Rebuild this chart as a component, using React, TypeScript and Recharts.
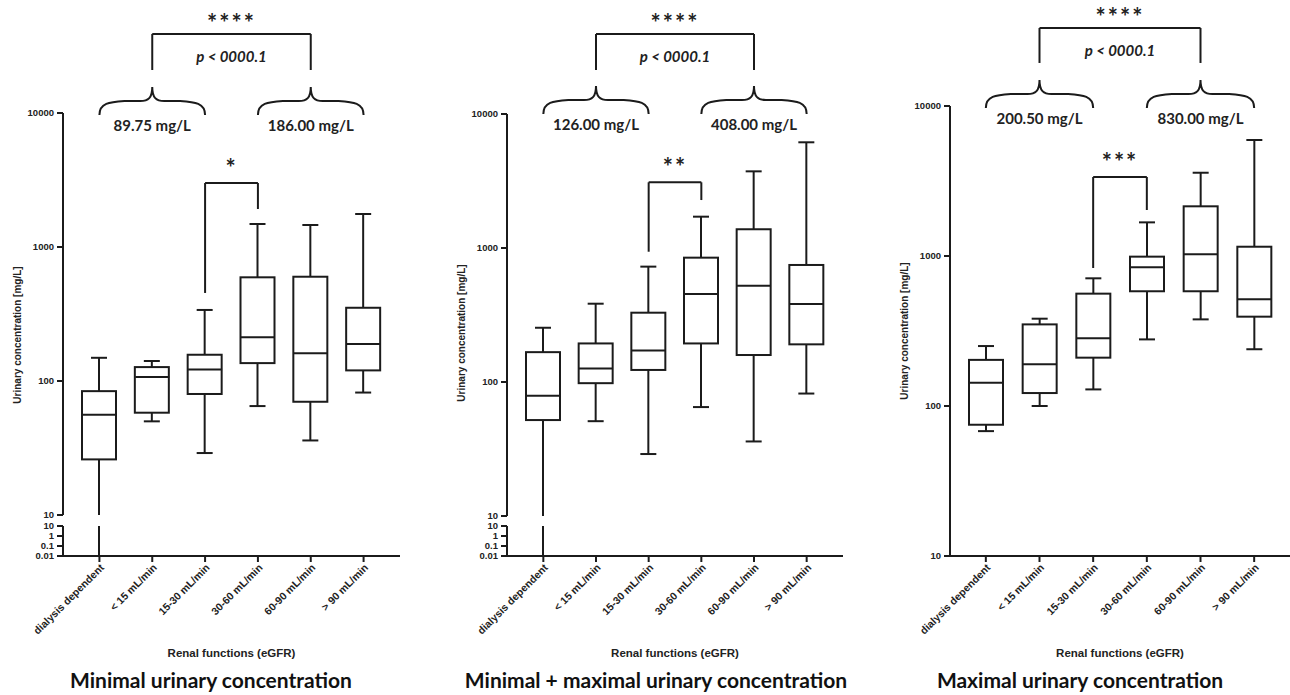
import React from 'react';
import { ComposedChart, Bar, Line, XAxis, YAxis, ReferenceLine } from 'recharts';

const groups = ['dialysis dependent', '< 15 mL/min', '15-30 mL/min', '30-60 mL/min', '60-90 mL/min', '> 90 mL/min'];

// Minimal urinary concentration
const minLow = [0.01, 50, 29, 65, 36, 82];
const minQ1 = [26, 58, 80, 136, 70, 120];
const minMedian = [56, 107, 122, 212, 161, 189];
const minQ3 = [84, 127, 157, 594, 600, 352];
const minHigh = [149, 141, 339, 1485, 1460, 1763];

// Minimal + maximal urinary concentration
const bothLow = [0.01, 51, 29, 65, 36, 82];
const bothQ1 = [52, 98, 123, 194, 159, 191];
const bothMedian = [79, 126, 172, 454, 523, 382];
const bothQ3 = [167, 194, 329, 847, 1380, 747];
const bothHigh = [254, 384, 726, 1713, 3733, 6150];

// Maximal urinary concentration
const maxLow = [68, 100, 129, 278, 378, 239];
const maxQ1 = [75, 122, 210, 582, 582, 394];
const maxMedian = [143, 190, 283, 840, 1026, 514];
const maxQ3 = [203, 350, 561, 990, 2144, 1153];
const maxHigh = [251, 382, 710, 1676, 3590, 5935];

const mainTicks = [10, 100, 1000, 10000];
const breakTicks = [0.01, 0.1, 1, 10];

const INK = '#1b1b1b';
const TEXT = '#222';
const ARIAL = '"Liberation Sans", Arial, sans-serif';
const CALIBRI = 'Lato, "Open Sans", sans-serif';

const yTickStyle = { fontSize: 9.5, fontWeight: 700, fill: TEXT, fontFamily: ARIAL };
const xTickStyle = { fontSize: 10.5, fontWeight: 700, fill: TEXT, fontFamily: ARIAL };
const starFont = { fontSize: 24, fontWeight: 700, fill: TEXT, fontFamily: CALIBRI, letterSpacing: 2 };
const noteFont = { fontSize: 15, fontWeight: 700, fill: TEXT, fontFamily: CALIBRI };
const pFont = { fontSize: 15, fontWeight: 700, fontStyle: 'italic', fill: TEXT, fontFamily: CALIBRI };

type Row = { group: string; whisker: [number, number]; box: [number, number]; median: number };

const buildRows = (low: number[], q1: number[], med: number[], q3: number[], high: number[]): Row[] =>
  groups.map((g, i) => ({ group: g, whisker: [low[i], high[i]], box: [q1[i], q3[i]], median: med[i] }));

function Whisker(props: any) {
  const { x, y, width, height } = props;
  if (x == null || y == null) return null;
  const cx = x + width / 2;
  const top = Math.min(y, y + height);
  const bottom = Math.max(y, y + height);
  return (
    <g stroke={INK} strokeWidth={2} fill="none">
      <line x1={cx} x2={cx} y1={top} y2={bottom} />
      <line x1={cx - 8} x2={cx + 8} y1={top} y2={top} />
      <line x1={cx - 8} x2={cx + 8} y1={bottom} y2={bottom} />
    </g>
  );
}

function BoxShape(props: any) {
  const { x, y, width, height } = props;
  if (x == null || y == null) return null;
  const top = Math.min(y, y + height);
  return <rect x={x} y={top} width={width} height={Math.abs(height)} fill="#fff" stroke={INK} strokeWidth={2} />;
}

function MedianTick(props: any) {
  const { cx, cy, index } = props;
  if (cx == null || cy == null) return <g key={`m${index}`} />;
  return <line key={`m${index}`} x1={cx - 17} x2={cx + 17} y1={cy} y2={cy} stroke={INK} strokeWidth={2} />;
}

function Brace(props: any) {
  const { x1, x2, y1 } = props;
  const y = y1;
  const xm = (x1 + x2) / 2;
  const d = `M${x1},${y} C${x1},${y - 12} ${x1 + 10},${y - 13} ${x1 + 25},${y - 14} L${xm - 12},${y - 14} C${xm - 4},${y - 14} ${xm},${y - 17} ${xm},${y - 28} C${xm},${y - 17} ${xm + 4},${y - 14} ${xm + 12},${y - 14} L${x2 - 25},${y - 14} C${x2 - 10},${y - 13} ${x2},${y - 12} ${x2},${y}`;
  return <path d={d} fill="none" stroke={INK} strokeWidth={2} />;
}

function YTitle({ px, py }: { px: number; py: number }) {
  return (
    <text x={px} y={py} transform={`rotate(-90 ${px} ${py})`} textAnchor="middle" dominantBaseline="central"
      fontSize={10} fontWeight={700} fill={TEXT} fontFamily={ARIAL}>
      Urinary concentration [mg/L]
    </text>
  );
}

type Notes = {
  bigTop: number; bigFoot: number; braceLevel: number; leftText: string; rightText: string;
  pairTop: number; pairLeft: number; pairRight: number; pairStars: string; topOffset: number;
};

type PanelProps = {
  left: number; width: number; right: number; pad: number; plotTop: number; plotBottom: number;
  broken: boolean; rows: Row[]; notes: Notes; title: string; titleCenter: number; labelY: number;
};

const axisStroke = { stroke: INK, strokeWidth: 2 };

function xAxisProps(pad: number) {
  return {
    dataKey: 'group',
    padding: { left: pad, right: pad },
    interval: 0 as const,
    angle: -45,
    textAnchor: 'end',
    height: 105,
    tick: xTickStyle,
    tickSize: 6,
    tickMargin: 1,
    axisLine: axisStroke,
    tickLine: axisStroke,
    label: { value: 'Renal functions (eGFR)', position: 'insideBottom' as const, offset: 4, fontSize: 11.5, fontWeight: 700, fill: TEXT, fontFamily: ARIAL },
  };
}

function Panel({ left, width, right, pad, plotTop, plotBottom, broken, rows, notes, title, titleCenter, labelY }: PanelProps) {
  const ref = { stroke: INK, strokeWidth: 2, ifOverflow: 'visible' as const };
  const mainHeight = broken ? plotBottom + 5 : plotBottom + 105;
  return (
    <>
      <div style={{ position: 'absolute', left, top: 0 }}>
        <ComposedChart width={width} height={mainHeight} data={rows} barGap={-34}
          margin={{ top: plotTop, right, bottom: broken ? 5 : 0, left: 0 }}>
          {broken ? (
            <XAxis dataKey="group" hide height={0} padding={{ left: pad, right: pad }} />
          ) : (
            <XAxis {...(xAxisProps(pad) as any)} />
          )}
          <YAxis scale="log" domain={[10, 10000]} allowDataOverflow ticks={mainTicks} interval={0} width={63}
            tick={yTickStyle} tickSize={6} tickMargin={3} axisLine={axisStroke} tickLine={axisStroke}
            label={<YTitle px={17} py={labelY} />} />
          <Bar dataKey="whisker" barSize={34} shape={Whisker} isAnimationActive={false} />
          <Bar dataKey="box" barSize={34} shape={BoxShape} isAnimationActive={false} />
          <Line dataKey="median" stroke="none" dot={MedianTick} activeDot={false} isAnimationActive={false} />

          <ReferenceLine {...ref} segment={[{ x: groups[1], y: notes.bigFoot }, { x: groups[1], y: notes.bigTop }]} />
          <ReferenceLine {...ref} segment={[{ x: groups[1], y: notes.bigTop }, { x: groups[4], y: notes.bigTop }]}
            label={{ value: '****', position: 'top', offset: notes.topOffset, ...starFont }} />
          <ReferenceLine {...ref} segment={[{ x: groups[4], y: notes.bigTop }, { x: groups[4], y: notes.bigFoot }]} />
          <ReferenceLine ifOverflow="visible" stroke="none" segment={[{ x: groups[1], y: notes.bigTop }, { x: groups[4], y: notes.bigTop }]}
            label={{ value: 'p < 0000.1', position: 'bottom', offset: 17, ...pFont }} />

          <ReferenceLine ifOverflow="visible" shape={Brace} segment={[{ x: groups[0], y: notes.braceLevel }, { x: groups[2], y: notes.braceLevel }]}
            label={{ value: notes.leftText, position: 'bottom', offset: 5, ...noteFont }} />
          <ReferenceLine ifOverflow="visible" shape={Brace} segment={[{ x: groups[3], y: notes.braceLevel }, { x: groups[5], y: notes.braceLevel }]}
            label={{ value: notes.rightText, position: 'bottom', offset: 5, ...noteFont }} />

          <ReferenceLine {...ref} segment={[{ x: groups[2], y: notes.pairLeft }, { x: groups[2], y: notes.pairTop }]} />
          <ReferenceLine {...ref} segment={[{ x: groups[2], y: notes.pairTop }, { x: groups[3], y: notes.pairTop }]}
            label={{ value: notes.pairStars, position: 'top', offset: 6, ...starFont }} />
          <ReferenceLine {...ref} segment={[{ x: groups[3], y: notes.pairTop }, { x: groups[3], y: notes.pairRight }]} />
        </ComposedChart>
      </div>
      {broken && (
        <div style={{ position: 'absolute', left, top: 520 }}>
          <ComposedChart width={width} height={141} data={rows} barGap={-34} margin={{ top: 6, right, bottom: 0, left: 0 }}>
            <XAxis {...(xAxisProps(pad) as any)} />
            <YAxis scale="log" domain={[0.01, 10]} allowDataOverflow ticks={breakTicks} interval={0} width={63}
              tick={yTickStyle} tickSize={6} tickMargin={3} axisLine={axisStroke} tickLine={axisStroke} />
            <Bar dataKey="whisker" barSize={34} shape={Whisker} isAnimationActive={false} />
          </ComposedChart>
        </div>
      )}
      <div style={{
        position: 'absolute', left: titleCenter - 250, width: 500, top: 667, textAlign: 'center',
        fontFamily: CALIBRI, fontWeight: 700, fontSize: 21, lineHeight: '26px', color: '#111',
      }}>
        {title}
      </div>
    </>
  );
}

export default function App() {
  return (
    <div style={{ position: 'absolute', left: 0, top: 0, width: 1290, height: 695, background: '#fff', overflow: 'hidden' }}>
      <Panel left={0} width={420} right={20} pad={10} plotTop={113} plotBottom={515} broken labelY={335}
        rows={buildRows(minLow, minQ1, minMedian, minQ3, minHigh)}
        notes={{ bigTop: 38900, bigFoot: 20940, braceLevel: 9660, leftText: '89.75 mg/L', rightText: '186.00 mg/L', pairTop: 3005, pairLeft: 454, pairRight: 1922, pairStars: '*', topOffset: 2 }}
        title="Minimal urinary concentration" titleCenter={211} />
      <Panel left={444} width={419} right={20} pad={10} plotTop={114} plotBottom={516} broken labelY={333}
        rows={buildRows(bothLow, bothQ1, bothMedian, bothQ3, bothHigh)}
        notes={{ bigTop: 39540, bigFoot: 21300, braceLevel: 10000, leftText: '126.00 mg/L', rightText: '408.00 mg/L', pairTop: 3093, pairLeft: 938, pairRight: 2280, pairStars: '**', topOffset: 2 }}
        title="Minimal + maximal urinary concentration" titleCenter={656} />
      <Panel left={887} width={403} right={0} pad={9} plotTop={106} plotBottom={556} broken={false} labelY={331}
        rows={buildRows(maxLow, maxQ1, maxMedian, maxQ3, maxHigh)}
        notes={{ bigTop: 33110, bigFoot: 19360, braceLevel: 9700, leftText: '200.50 mg/L', rightText: '830.00 mg/L', pairTop: 3364, pairLeft: 832, pairRight: 2026, pairStars: '***', topOffset: 2 }}
        title="Maximal urinary concentration" titleCenter={1080} />
    </div>
  );
}
